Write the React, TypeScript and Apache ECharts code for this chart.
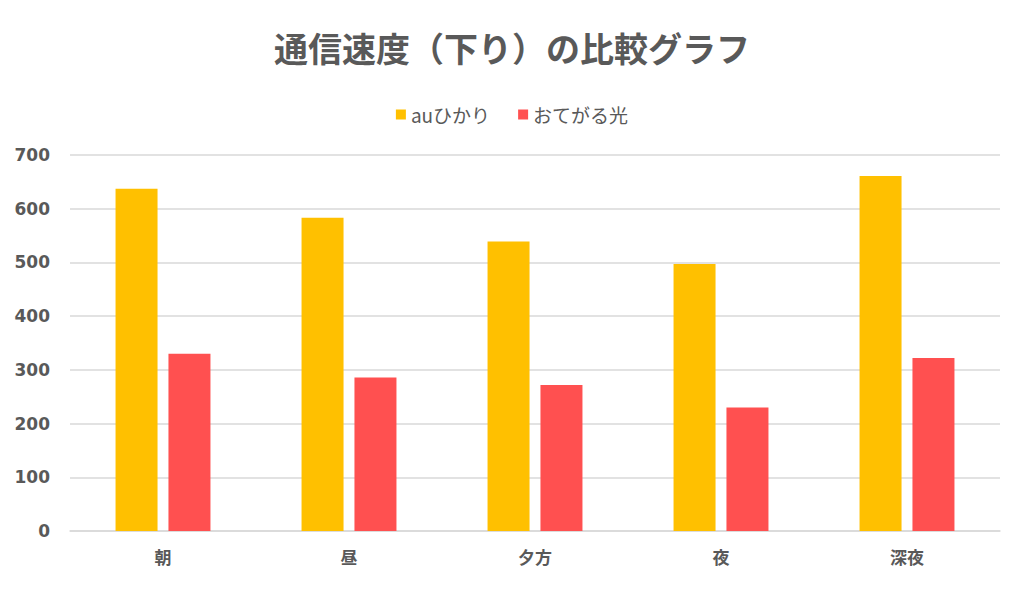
import React, { useEffect, useRef } from "react";
import * as echarts from "echarts";

const categories = ["朝", "昼", "夕方", "夜", "深夜"];
const auValues = [637, 583, 539, 497, 661];
const otegaruValues = [330, 286, 272, 230, 322];
const seriesNames = ["auひかり", "おてがる光"];
const yTicks = { min: 0, max: 700, interval: 100 };

export default function App() {
  const ref = useRef<HTMLDivElement>(null);
  useEffect(() => {
    document.body.style.margin = "0";
    const chart = echarts.init(ref.current!, undefined, { renderer: "svg" });
    const font = "'Noto Sans CJK JP', 'DejaVu Sans', sans-serif";
    chart.setOption({
      animation: false,
      backgroundColor: "#ffffff",
      title: {
        text: "通信速度（下り）の比較グラフ",
        left: "center",
        top: 25,
        textStyle: { fontFamily: font, fontSize: 34, fontWeight: "bold", color: "#595959" },
      },
      legend: {
        data: seriesNames,
        left: "center",
        top: 100,
        itemWidth: 10,
        itemHeight: 10,
        itemGap: 28,
        icon: "rect",
        textStyle: { fontFamily: font, fontSize: 19, color: "#595959" },
      },
      grid: { left: 70, right: 24, top: 155, bottom: 58 },
      xAxis: {
        type: "category",
        data: categories,
        axisLine: { lineStyle: { color: "#d9d9d9", width: 1.5 } },
        axisTick: { show: false },
        axisLabel: {
          fontFamily: font,
          fontSize: 17,
          fontWeight: "bold",
          color: "#595959",
          margin: 17,
        },
      },
      yAxis: {
        type: "value",
        min: yTicks.min,
        max: yTicks.max,
        interval: yTicks.interval,
        axisLine: { show: false },
        axisTick: { show: false },
        splitLine: { lineStyle: { color: "#d9d9d9", width: 1.5 } },
        axisLabel: {
          fontFamily: "'DejaVu Sans', sans-serif",
          fontSize: 17,
          fontWeight: "bold",
          color: "#595959",
          margin: 20,
        },
      },
      series: [
        {
          name: seriesNames[0],
          type: "bar",
          data: auValues,
          barWidth: 42,
          barGap: "26%",
          itemStyle: { color: "#FFC000" },
        },
        {
          name: seriesNames[1],
          type: "bar",
          data: otegaruValues,
          barWidth: 42,
          itemStyle: { color: "#FF5050" },
        },
      ],
    });
    return () => chart.dispose();
  }, []);
  return (
    <div
      style={{
        position: "absolute",
        left: 0,
        top: 0,
        width: 1022,
        height: 588,
        border: "2px solid #d9d9d9",
        boxSizing: "border-box",
        background: "#fff",
      }}
    >
      <div ref={ref} style={{ position: "absolute", left: -2, top: -2, width: 1024, height: 589 }} />
    </div>
  );
}
